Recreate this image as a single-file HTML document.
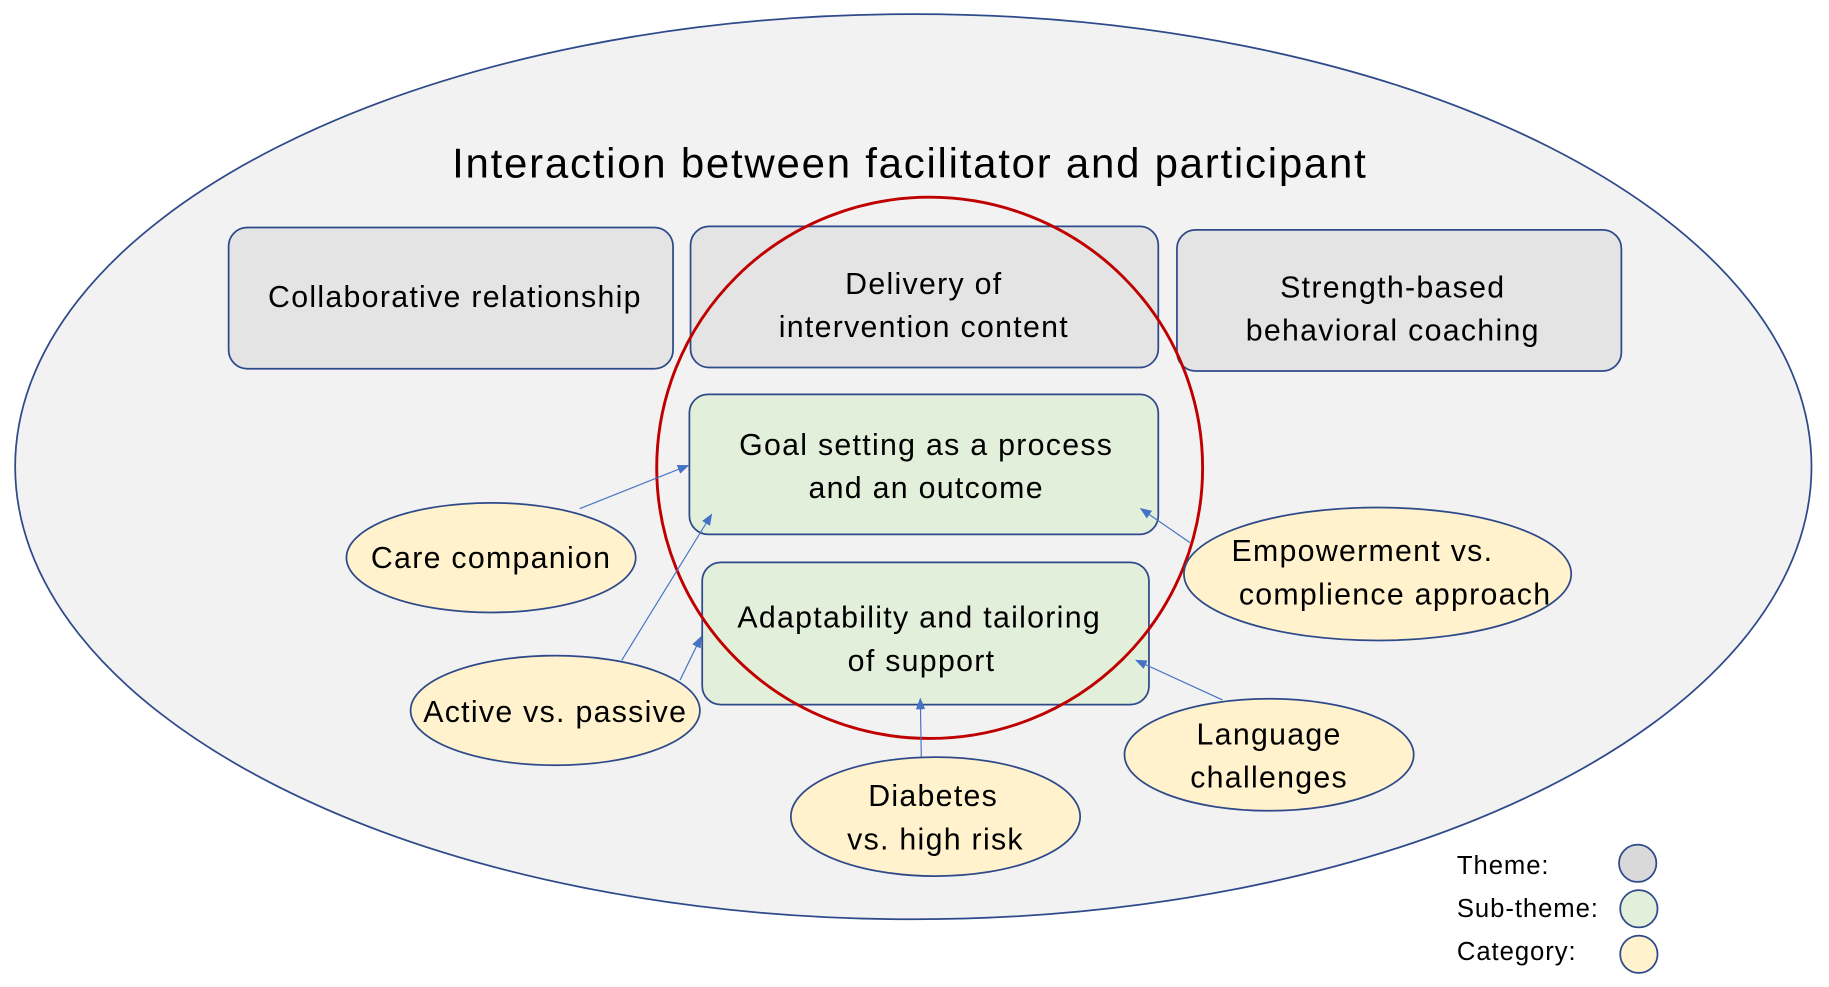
<!DOCTYPE html>
<html><head><meta charset="utf-8"><style>
html,body{margin:0;padding:0;background:#fff;}
svg{display:block;}
text{font-family:"Liberation Sans",sans-serif;fill:#000;}
.l{font-size:26px;letter-spacing:1.1px;}
</style></head><body>
<svg width="1829" height="987" viewBox="0 0 1568 846" xmlns="http://www.w3.org/2000/svg">
<defs>
<marker id="a" markerWidth="10" markerHeight="8" refX="9" refY="4" orient="auto" markerUnits="userSpaceOnUse">
<path d="M0,0 L10,4 L0,8 z" fill="#4472c4"/>
</marker>
</defs>
<rect width="1568" height="846" fill="#fff"/>
<ellipse cx="783" cy="400" rx="770" ry="388" fill="#f2f2f2" stroke="#2f4a8a" stroke-width="1.5"/>
<text x="780" y="152" font-size="36" letter-spacing="1.5" text-anchor="middle">Interaction between facilitator and participant</text>

<g fill="#e4e4e4" stroke="#2f4a8a" stroke-width="1.5">
<rect x="196" y="195" width="381" height="121" rx="16"/>
<rect x="592" y="194" width="401" height="121" rx="16"/>
<rect x="1009" y="197" width="381" height="121" rx="16"/>
</g>
<g fill="#e2efda" stroke="#2f4a8a" stroke-width="1.5">
<rect x="591" y="338" width="402" height="120" rx="16"/>
<rect x="602" y="482" width="383" height="122" rx="16"/>
</g>
<g class="l" text-anchor="middle">
<text x="390" y="263">Collaborative relationship</text>
<text x="792" y="252">Delivery of</text>
<text x="792" y="289">intervention content</text>
<text x="1194" y="255">Strength-based</text>
<text x="1194" y="292">behavioral coaching</text>
<text x="794" y="390">Goal setting as a process</text>
<text x="794" y="427">and an outcome</text>
<text x="788" y="538">Adaptability and tailoring</text>
<text x="790" y="575">of support</text>
</g>

<ellipse cx="797" cy="401" rx="234" ry="232" fill="none" stroke="#c00000" stroke-width="2.5"/>

<g stroke="#4472c4" stroke-width="1" marker-end="url(#a)">
<line x1="497" y1="436" x2="590" y2="399"/>
<line x1="533" y1="566" x2="610" y2="441"/>
<line x1="583" y1="583" x2="601" y2="546"/>
<line x1="790" y1="658" x2="789" y2="599"/>
<line x1="1048" y1="600" x2="974" y2="566"/>
<line x1="1020" y1="465" x2="978" y2="436"/>
</g>

<g fill="#fff2cc" stroke="#2f4a8a" stroke-width="1.5">
<ellipse cx="421" cy="478" rx="124" ry="47"/>
<ellipse cx="476" cy="609" rx="124" ry="47"/>
<ellipse cx="802" cy="700" rx="124" ry="51"/>
<ellipse cx="1088" cy="647" rx="124" ry="48"/>
<ellipse cx="1181" cy="492" rx="166" ry="57"/>
</g>
<g class="l" text-anchor="middle">
<text x="421" y="487">Care companion</text>
<text x="476" y="619">Active vs. passive</text>
<text x="800" y="691">Diabetes</text>
<text x="802" y="728">vs. high risk</text>
<text x="1088" y="638">Language</text>
<text x="1088" y="675">challenges</text>
<text x="1168" y="481">Empowerment vs.</text>
<text x="1196" y="518">complience approach</text>
</g>

<g font-size="22" letter-spacing="0.8">
<text x="1249" y="749">Theme:</text>
<text x="1249" y="786">Sub-theme:</text>
<text x="1249" y="823">Category:</text>
</g>
<g stroke="#2f4a8a" stroke-width="1.5">
<circle cx="1404" cy="740" r="16" fill="#d9d9d9"/>
<circle cx="1405" cy="779" r="16" fill="#e2efda"/>
<circle cx="1405" cy="818" r="16" fill="#fff2cc"/>
</g>
</svg>
</body></html>
